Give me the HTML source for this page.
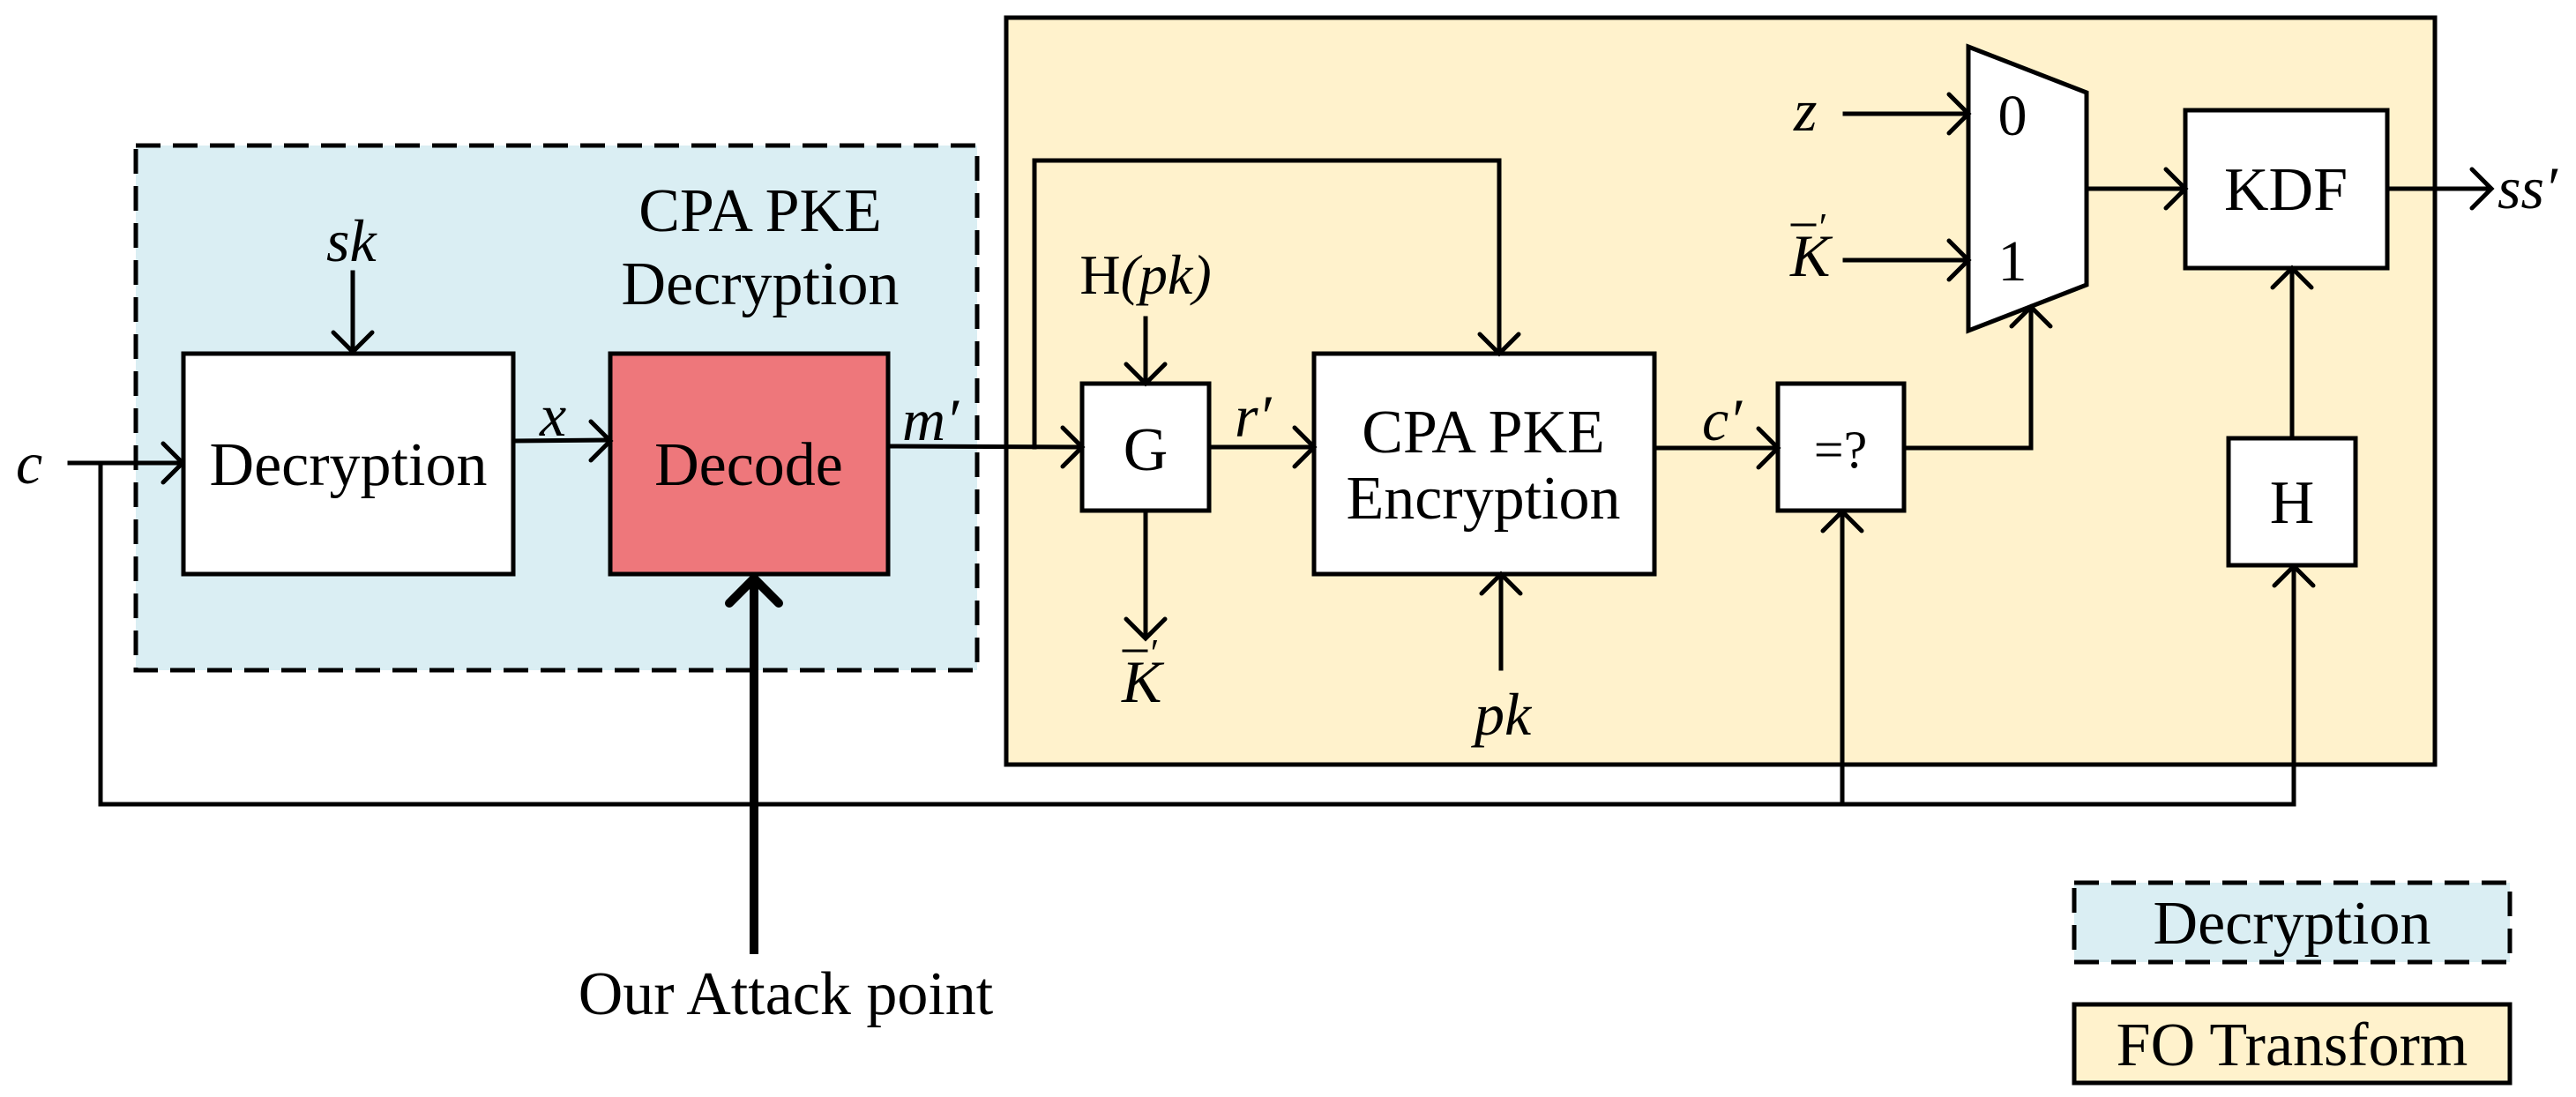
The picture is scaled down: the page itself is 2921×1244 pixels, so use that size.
<!DOCTYPE html>
<html><head><meta charset="utf-8"><style>
html,body{margin:0;padding:0;background:#fff;}
svg{display:block;}
text{font-family:"Liberation Serif",serif;fill:#000;}
</style></head><body>
<svg width="2921" height="1244" viewBox="0 0 2921 1244" xmlns="http://www.w3.org/2000/svg">
<g stroke="#000" stroke-width="5" fill="none" stroke-linecap="square">
<rect x="1141" y="20" width="1620" height="847" fill="#fff2cc"/>
<rect x="154" y="165" width="954" height="595" fill="#daeef3" stroke-dasharray="28,14" stroke-linecap="butt"/>
<rect x="208" y="401" width="374" height="250" fill="#fff"/>
<rect x="692" y="401" width="315" height="250" fill="#ee777b"/>
<rect x="1227" y="435" width="144" height="144" fill="#fff"/>
<rect x="1490" y="401" width="386" height="250" fill="#fff"/>
<rect x="2016" y="435" width="143" height="144" fill="#fff"/>
<rect x="2478" y="125" width="229" height="179" fill="#fff"/>
<rect x="2527" y="497" width="144" height="144" fill="#fff"/>
<polygon points="2232,53 2366,105 2366,323 2232,375" fill="#fff"/>
<rect x="2352" y="1001" width="494" height="90" fill="#daeef3" stroke-dasharray="28,14" stroke-linecap="butt"/>
<rect x="2352" y="1139" width="494" height="89" fill="#fff2cc"/>
<polyline points="79,525 206,525"/>
<polyline points="114,525 114,912 2601,912"/>
<polyline points="2089,912 2089,582"/>
<polyline points="2601,912 2601,644"/>
<polyline points="2599,497 2599,306"/>
<polyline points="400,309 400,399"/>
<polyline points="582,500 690,499"/>
<polyline points="1007,506 1225,507"/>
<polyline points="1173,507 1173,182 1700,182 1700,399"/>
<polyline points="1299,361 1299,433"/>
<polyline points="1299,579 1299,722"/>
<polyline points="1371,507 1488,507"/>
<polyline points="1876,508 2014,508"/>
<polyline points="1702,758 1702,654"/>
<polyline points="2159,508 2303,508 2303,352"/>
<polyline points="2092,129 2230,129"/>
<polyline points="2092,295 2230,295"/>
<polyline points="2366,214 2476,214"/>
<polyline points="2707,214 2823,214"/>
<g stroke-linecap="round">
<polyline points="185,503 207,525 185,547"/>
<polyline points="378,377 400,399 422,377"/>
<polyline points="670,478 692,500 670,522"/>
<polyline points="1205,485 1227,507 1205,529"/>
<polyline points="1678,379 1700,401 1722,379"/>
<polyline points="1277,413 1299,435 1321,413"/>
<polyline points="1277,702 1299,724 1321,702"/>
<polyline points="1468,485 1490,507 1468,529"/>
<polyline points="1994,486 2016,508 1994,530"/>
<polyline points="1680,673 1702,651 1724,673"/>
<polyline points="2067,602 2089,580 2111,602"/>
<polyline points="2579,664 2601,642 2623,664"/>
<polyline points="2577,326 2599,304 2621,326"/>
<polyline points="2281,370 2303,348 2325,370"/>
<polyline points="2210,107 2232,129 2210,151"/>
<polyline points="2210,273 2232,295 2210,317"/>
<polyline points="2456,192 2478,214 2456,236"/>
<polyline points="2803,192 2825,214 2803,236"/>
</g>
<polyline points="855,1077 855,656" stroke-width="10"/>
<polyline points="827,684 855,656 883,684" stroke-width="10" stroke-linecap="round"/>
<line x1="1274" y1="738" x2="1300" y2="738" stroke-width="3"/>
<line x1="2032" y1="255" x2="2058" y2="255" stroke-width="3"/>
</g>
<g font-size="70" text-anchor="middle">
<text x="395" y="550">Decryption</text>
<text x="849" y="550">Decode</text>
<text x="862" y="262">CPA PKE</text>
<text x="862" y="345">Decryption</text>
<text x="1299" y="533">G</text>
<text x="1682" y="513">CPA PKE</text>
<text x="1682" y="588">Encryption</text>
<text x="2087" y="530" font-size="60">=?</text>
<text x="2592" y="238">KDF</text>
<text x="2599" y="593">H</text>
<text x="2282" y="153" font-size="66">0</text>
<text x="2282" y="318" font-size="66">1</text>
<text x="1299" y="333" font-size="64">H<tspan font-style="italic">(pk)</tspan></text>
<text x="891" y="1150">Our Attack point</text>
<text x="2599" y="1070">Decryption</text>
<text x="2599" y="1208">FO Transform</text>
</g>
<g font-size="68" font-style="italic">
<text x="18" y="548">c</text>
<text x="370" y="296">sk</text>
<text x="612" y="494">x</text>
<text x="1023" y="499">m′</text>
<text x="1400" y="495">r′</text>
<text x="1930" y="499">c′</text>
<text x="1672" y="833">pk</text>
<text x="2034" y="148">z</text>
<text x="2832" y="236">ss′</text>
<text x="1272" y="796">K</text>
<text x="1302" y="755" font-size="44">′</text>
<text x="2030" y="313">K</text>
<text x="2060" y="272" font-size="44">′</text>
</g>
</svg>
</body></html>
